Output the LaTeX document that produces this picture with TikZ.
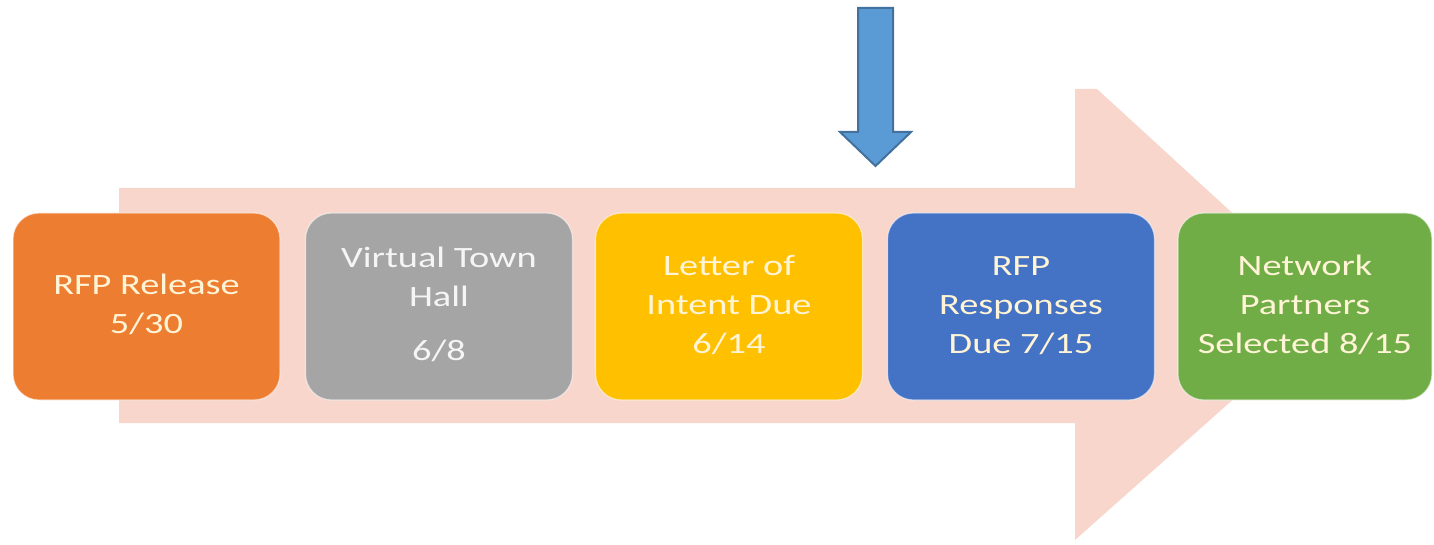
\documentclass[tikz,border=0pt]{standalone}
\usepackage{fontspec}
\setmainfont{Carlito}
\usepackage{graphicx}
\usepackage{tikz}

\definecolor{bandpink}{RGB}{248,214,204}
\definecolor{rfporange}{RGB}{237,125,49}
\definecolor{hallgray}{RGB}{165,165,165}
\definecolor{loiyellow}{RGB}{255,192,0}
\definecolor{respblue}{RGB}{68,114,196}
\definecolor{selgreen}{RGB}{112,173,71}
\definecolor{pointerfill}{RGB}{91,155,213}
\definecolor{pointerline}{RGB}{65,113,156}
\definecolor{stagecream}{RGB}{255,244,214}

\newcommand{\StageText}[1]{%
  \scalebox{1.3}[1]{\fontsize{29.5}{39}\selectfont\begin{tabular}{@{}c@{}}#1\end{tabular}}%
}

\begin{document}
\begin{tikzpicture}[x=1pt, y=1pt,
  stage/.style={rectangle, rounded corners=26pt, minimum width=267pt, minimum height=187pt,
    inner sep=0pt, draw=white, draw opacity=0.55, line width=1.2pt, text=stagecream}]
  \useasboundingbox (0,0) rectangle (1434,544);
  \fill[bandpink] (119,356) -- (1075,356) -- (1075,455) -- (1097,455)
    -- (1336,236) -- (1075,4) -- (1075,121) -- (119,121) -- cycle;
  \node[stage, fill=rfporange] (release) at (146.5,237.5) {\StageText{RFP Release\\5/30}};
  \node[stage, fill=hallgray, text=white!96!black] (townhall) at (439,237.5) {\StageText{Virtual Town\\Hall\\[15pt]6/8}};
  \node[stage, fill=loiyellow] (intent) at (729,237.5) {\StageText{Letter of\\Intent Due\\6/14}};
  \node[stage, fill=respblue] (responses) at (1021,237.5) {\StageText{RFP\\Responses\\Due 7/15}};
  \node[stage, fill=selgreen, minimum width=254pt] (partners) at (1305,237.5) {\StageText{Network\\Partners\\Selected 8/15}};
  \filldraw[fill=pointerfill, draw=pointerline, line width=2pt]
    (858,536) -- (893,536) -- (893,412) -- (911,412) -- (875.5,378) -- (840,412) -- (858,412) -- cycle;
\end{tikzpicture}
\end{document}
